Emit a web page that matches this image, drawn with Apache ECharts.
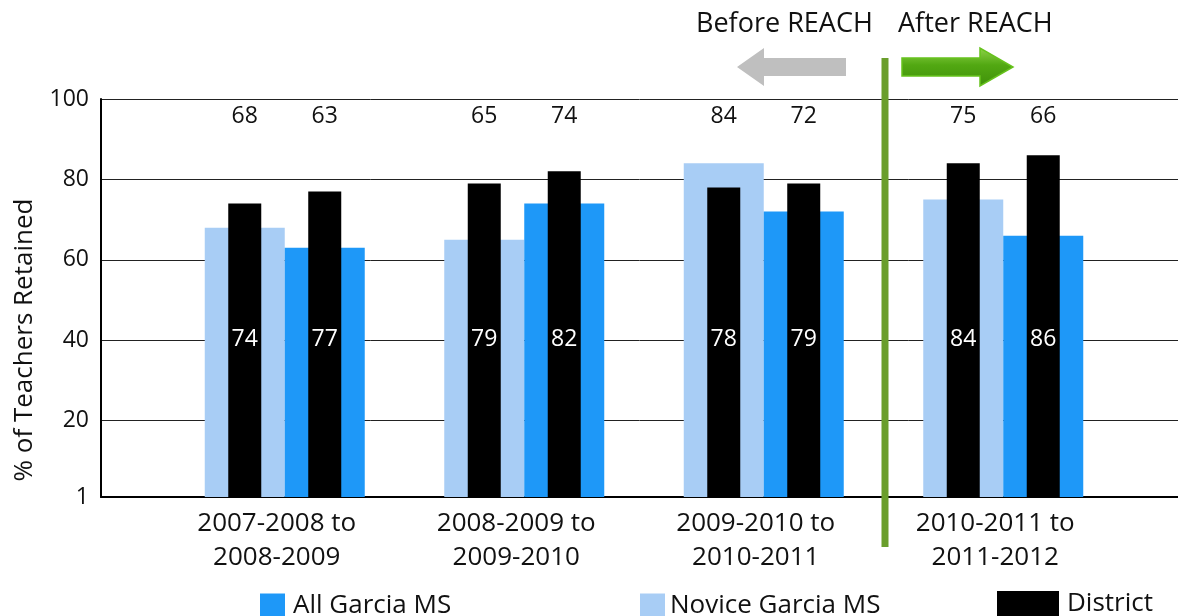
<!DOCTYPE html>
<html lang="en" style="height: 100%">
<head>
  <meta charset="utf-8">
</head>
<body style="height: 100%; margin: 0; background-color:#ffffff;">
  <div id="container" style="height: 100%"></div>

<script src="https://fastly.jsdelivr.net/npm/echarts@6/dist/echarts.min.js"></script>

<script>
  var dom = document.getElementById('container');
  var myChart = echarts.init(dom);

  var categories = ['2007-2008 to\n2008-2009', '2008-2009 to\n2009-2010', '2009-2010 to\n2010-2011', '2010-2011 to\n2011-2012'];
  var noviceGarcia = [68, 65, 84, 75];
  var allGarcia = [63, 74, 72, 66];
  var districtByNovice = [74, 79, 78, 84];
  var districtByAll = [77, 82, 79, 86];
  var yTicks = [1, 20, 40, 60, 80, 100];

  var font = '"Open Sans", sans-serif';
  var topLabelY = 116;
  var innerLabelY = 339;

  // labels sit at a fixed height, not on top of the bar
  function fixedY(y) {
    return function () { return { y: y, align: 'center', verticalAlign: 'middle' }; };
  }

  var option = {
    textStyle: { fontFamily: font },
    tooltip: { trigger: 'axis', axisPointer: { type: 'shadow' } },
    grid: [
      { left: 101, right: 0, top: 99, bottom: 119, outerBoundsMode: 'none' },
      { left: 165, right: 55, top: 99, bottom: 119, outerBoundsMode: 'none' }
    ],
    legend: [
      { data: ['All Garcia MS'], left: 255, top: 588, itemWidth: 25, itemHeight: 25, icon: 'rect',
        textStyle: { fontSize: 26, color: '#111', padding: [0, 0, 0, 3] } },
      { data: ['Novice Garcia MS'], left: 635, top: 588, itemWidth: 25, itemHeight: 25, icon: 'rect',
        textStyle: { fontSize: 26, color: '#111', padding: [0, 0, 0, 0] } },
      { data: ['District'], left: 992, top: 586, itemWidth: 62, itemHeight: 26, icon: 'rect',
        textStyle: { fontSize: 26, color: '#111', padding: [4, 0, 0, 3] } }
    ],
    xAxis: [
      { gridIndex: 0, type: 'value', min: 0, max: 1,
        axisLine: { show: true, lineStyle: { color: '#000', width: 2 } },
        axisTick: { show: false }, axisLabel: { show: false }, splitLine: { show: false } },
      { gridIndex: 1, type: 'category', data: categories,
        axisLine: { show: false }, axisTick: { show: false },
        axisLabel: { fontSize: 26, color: '#111', lineHeight: 34, margin: 10, padding: [0, 16, 0, 0] } },
      { gridIndex: 1, type: 'category', data: categories, show: false }
    ],
    yAxis: [
      { gridIndex: 0, type: 'value', min: 1, max: 100,
        axisLine: { show: true, lineStyle: { color: '#000', width: 2 } },
        axisTick: { show: false, customValues: yTicks },
        axisLabel: { customValues: yTicks, fontSize: 23, color: '#111', margin: 12 },
        splitLine: { show: true, lineStyle: { color: '#222', width: 1 } } },
      { gridIndex: 1, type: 'value', min: 1, max: 100, show: false, splitLine: { show: false } }
    ],
    series: [
      { name: 'Novice Garcia MS', type: 'bar', xAxisIndex: 1, yAxisIndex: 1,
        data: noviceGarcia, barWidth: 80, barGap: '0%', itemStyle: { color: '#a8cdf5' },
        label: { show: true, position: 'inside', fontSize: 23, color: '#111' },
        labelLayout: fixedY(topLabelY) },
      { name: 'All Garcia MS', type: 'bar', xAxisIndex: 1, yAxisIndex: 1,
        data: allGarcia, barWidth: 80, barGap: '0%', itemStyle: { color: '#1e98f8' },
        label: { show: true, position: 'inside', fontSize: 23, color: '#111' },
        labelLayout: fixedY(topLabelY) },
      { name: 'District', type: 'bar', xAxisIndex: 2, yAxisIndex: 1, z: 3,
        data: districtByNovice, barWidth: 33, barGap: '142.4%', itemStyle: { color: '#000' },
        label: { show: true, position: 'inside', fontSize: 23, color: '#fff' },
        labelLayout: fixedY(innerLabelY) },
      { name: 'District', type: 'bar', xAxisIndex: 2, yAxisIndex: 1, z: 3,
        data: districtByAll, barWidth: 33, barGap: '142.4%', itemStyle: { color: '#000' },
        label: { show: true, position: 'inside', fontSize: 23, color: '#fff' },
        labelLayout: fixedY(innerLabelY) }
    ],
    graphic: [
      { type: 'text', x: 25, y: 340, rotation: Math.PI / 2, z: 10,
        style: { text: '% of Teachers Retained', font: '26px ' + font, fill: '#111',
                 align: 'center', verticalAlign: 'middle' } },
      { type: 'line', shape: { x1: 885, y1: 58, x2: 885, y2: 547 },
        style: { stroke: '#6a9e2c', lineWidth: 7 }, z: 10 },
      { type: 'polygon', z: 10,
        shape: { points: [[737, 67], [764, 48], [764, 58], [846, 58], [846, 76], [764, 76], [764, 86]] },
        style: { fill: '#bfbfbf' } },
      { type: 'polygon', z: 10,
        shape: { points: [[902, 58], [980, 58], [980, 48], [1013, 67], [980, 86], [980, 76], [902, 76]] },
        style: {
          fill: new echarts.graphic.LinearGradient(0, 0, 0, 1, [
            { offset: 0, color: '#8fd34a' },
            { offset: 0.45, color: '#52a812' },
            { offset: 1, color: '#3f900a' }
          ]),
          stroke: '#66c21c', lineWidth: 1.5
        } },
      { type: 'text', x: 696, y: 24, z: 10,
        style: { text: 'Before REACH', font: '27px ' + font, fill: '#111', verticalAlign: 'middle' } },
      { type: 'text', x: 898, y: 24, z: 10,
        style: { text: 'After REACH', font: '27px ' + font, fill: '#111', verticalAlign: 'middle' } }
    ]
  };

  myChart.setOption(option);

  window.addEventListener('resize', myChart.resize);
</script>

</body>
</html>
